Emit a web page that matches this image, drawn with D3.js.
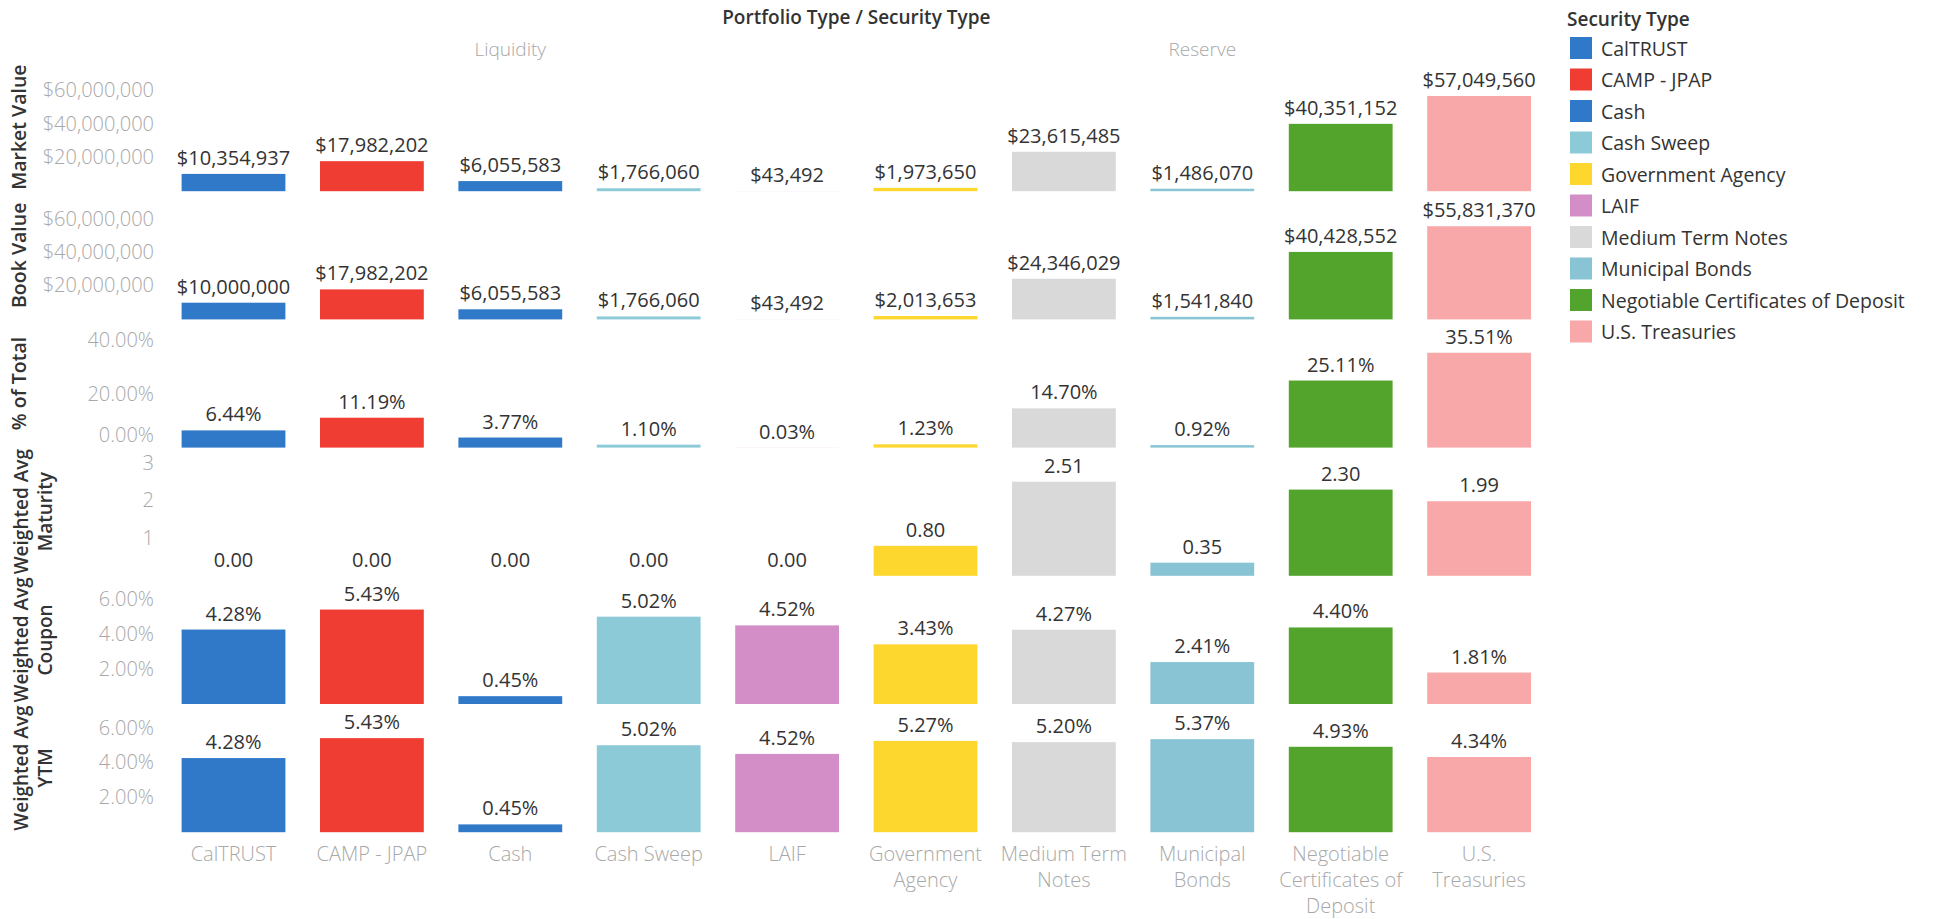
<!DOCTYPE html>
<html>
<head>
<meta charset="utf-8">
<script src="https://cdn.jsdelivr.net/npm/d3@7"></script>
<style>
  html, body { margin: 0; padding: 0; background: #fff; }
  svg { display: block; font-family: "Open Sans", "Noto Sans", sans-serif; }
</style>
</head>
<body>
<svg id="chart" width="1933" height="919"></svg>
<script>
// ---------------- data ----------------
const categories = ["CalTRUST", "CAMP - JPAP", "Cash", "Cash Sweep", "LAIF",
  "Government Agency", "Medium Term Notes", "Municipal Bonds",
  "Negotiable Certificates of Deposit", "U.S. Treasuries"];
const categoryLabelLines = [["CalTRUST"], ["CAMP - JPAP"], ["Cash"], ["Cash Sweep"], ["LAIF"],
  ["Government", "Agency"], ["Medium Term", "Notes"], ["Municipal", "Bonds"],
  ["Negotiable", "Certificates of", "Deposit"], ["U.S.", "Treasuries"]];
const portfolioTypes = ["Liquidity", "Reserve"];
const portfolioOfCategory = ["Liquidity", "Liquidity", "Liquidity", "Liquidity", "Liquidity",
  "Reserve", "Reserve", "Reserve", "Reserve", "Reserve"];

const legendTypes = ["CalTRUST", "CAMP - JPAP", "Cash", "Cash Sweep", "Government Agency", "LAIF",
  "Medium Term Notes", "Municipal Bonds", "Negotiable Certificates of Deposit", "U.S. Treasuries"];
const legendColors = ["#3079c9", "#ef3d34", "#3079c9", "#8dcad8", "#fdd62e", "#d48ec7",
  "#d9d9d9", "#89c4d4", "#52a42c", "#f9a8a9"];

const marketValue = [10354937, 17982202, 6055583, 1766060, 43492, 1973650, 23615485, 1486070, 40351152, 57049560];
const bookValue   = [10000000, 17982202, 6055583, 1766060, 43492, 2013653, 24346029, 1541840, 40428552, 55831370];
const pctOfTotal  = [6.44, 11.19, 3.77, 1.10, 0.03, 1.23, 14.70, 0.92, 25.11, 35.51];
const wamMaturity = [0.00, 0.00, 0.00, 0.00, 0.00, 0.80, 2.51, 0.35, 2.30, 1.99];
const wamCoupon   = [4.28, 5.43, 0.45, 5.02, 4.52, 3.43, 4.27, 2.41, 4.40, 1.81];
const wamYTM      = [4.28, 5.43, 0.45, 5.02, 4.52, 5.27, 5.20, 5.37, 4.93, 4.34];

const rowTitles = [["Market Value"], ["Book Value"], ["% of Total"],
  ["Weighted Avg", "Maturity"], ["Weighted Avg", "Coupon"], ["Weighted Avg", "YTM"]];
const rowValues = [marketValue, bookValue, pctOfTotal, wamMaturity, wamCoupon, wamYTM];
const rowAxisMax = [76800000, 76800000, 48.0, 3.42, 7.37, 7.40];
const rowTicks = [[20000000, 40000000, 60000000], [20000000, 40000000, 60000000],
  [0, 20, 40], [1, 2, 3], [2, 4, 6], [2, 4, 6]];
const fmtMoney = d3.format("$,.0f");
const fmtPct = v => d3.format(".2f")(v) + "%";
const fmtNum = d3.format(".2f");
const rowFormats = [fmtMoney, fmtMoney, fmtPct, fmtNum, fmtPct, fmtPct];
const tickFormats = [fmtMoney, fmtMoney, fmtPct, d3.format("d"), fmtPct, fmtPct];

// ---------------- layout ----------------
const svg = d3.select("#chart");
const plotX0 = 164.3, plotX1 = 1548.3;
const rowTop0 = 63, rowH = 128.2;

const color = d3.scaleOrdinal().domain(legendTypes).range(legendColors);
const x = d3.scaleBand().domain(categories).range([plotX0, plotX1]).paddingInner(0.25).paddingOuter(0.125);

// Title
svg.append("text")
  .attr("x", (plotX0 + plotX1) / 2).attr("y", 17)
  .attr("text-anchor", "middle").attr("dominant-baseline", "central")
  .attr("font-size", 19).attr("font-weight", 600).attr("fill", "#333")
  .text("Portfolio Type  /  Security Type");

// Portfolio type headers
portfolioTypes.forEach(pt => {
  const idx = categories.map((c, i) => i).filter(i => portfolioOfCategory[i] === pt);
  const cx = (x(categories[idx[0]]) + x(categories[idx[idx.length - 1]]) + x.bandwidth()) / 2;
  svg.append("text")
    .attr("x", cx).attr("y", 49)
    .attr("text-anchor", "middle").attr("dominant-baseline", "central")
    .attr("font-size", 19).attr("font-weight", 300).attr("fill", "#a8a8a8")
    .text(pt);
});

// Rows
rowValues.forEach((vals, r) => {
  const top = rowTop0 + r * rowH, bottom = top + rowH;
  const y = d3.scaleLinear().domain([0, rowAxisMax[r]]).range([bottom, top]);
  const g = svg.append("g");

  // axis
  const ax = g.append("g").attr("transform", "translate(160,0)")
    .call(d3.axisLeft(y).tickValues(rowTicks[r]).tickSize(0).tickPadding(6).tickFormat(tickFormats[r]));
  ax.select(".domain").remove();
  ax.selectAll("text")
    .attr("font-family", "\"Open Sans\", sans-serif")
    .attr("font-size", 20).attr("font-weight", 300).attr("fill", "#a8a8a8");
  // keep edge labels inside the pane (Tableau behaviour)
  ax.selectAll(".tick").attr("transform", d => {
    let ty = y(d);
    ty = Math.min(ty, bottom - 12);
    ty = Math.max(ty, top + 12);
    return `translate(0,${ty})`;
  });

  // bars
  g.selectAll("rect.bar").data(categories).join("rect")
    .attr("class", "bar")
    .attr("x", c => x(c))
    .attr("width", x.bandwidth())
    .attr("y", (c, i) => y(vals[i]))
    .attr("height", (c, i) => y(0) - y(vals[i]))
    .attr("fill", c => color(c));

  // value labels
  g.selectAll("text.val").data(categories).join("text")
    .attr("class", "val")
    .attr("x", c => x(c) + x.bandwidth() / 2)
    .attr("y", (c, i) => y(vals[i]) - 9)
    .attr("text-anchor", "middle")
    .attr("font-size", 20).attr("fill", "#333")
    .text((c, i) => rowFormats[r](vals[i]));

  // row title
  const lines = rowTitles[r];
  const cy = (top + bottom) / 2;
  const tx = lines.length === 1 ? 19 : 21;
  const t = svg.append("text")
    .attr("transform", `translate(${tx},${cy}) rotate(-90)`)
    .attr("text-anchor", "middle")
    .attr("font-size", lines.length === 1 ? 19.5 : 19).attr("font-weight", 600).attr("fill", "#333");
  lines.forEach((ln, k) => {
    t.append("tspan").attr("x", 0).attr("y", k * 24).attr("dy", "0.35em").text(ln);
  });
});

// Category axis labels (bottom)
const bottomY = rowTop0 + 6 * rowH;
categories.forEach((c, i) => {
  const t = svg.append("text")
    .attr("x", x(c) + x.bandwidth() / 2)
    .attr("text-anchor", "middle")
    .attr("font-size", 20).attr("font-weight", 300).attr("fill", "#a8a8a8");
  categoryLabelLines[i].forEach((ln, k) => {
    t.append("tspan").attr("x", x(c) + x.bandwidth() / 2)
      .attr("y", bottomY + 22 + k * 26).attr("dy", "0.35em").text(ln);
  });
});

// Legend
const lg = svg.append("g").attr("transform", "translate(1567,0)");
lg.append("text").attr("x", 0).attr("y", 19).attr("dominant-baseline", "central")
  .attr("font-size", 19).attr("font-weight", 600).attr("fill", "#333").text("Security Type");
legendTypes.forEach((s, i) => {
  const cy = 48 + i * 31.5;
  lg.append("rect").attr("x", 3).attr("y", cy - 11).attr("width", 22).attr("height", 22)
    .attr("fill", color(s));
  lg.append("text").attr("x", 34).attr("y", cy).attr("dominant-baseline", "central")
    .attr("font-size", 19.5).attr("fill", "#333").text(s);
});
</script>
</body>
</html>
